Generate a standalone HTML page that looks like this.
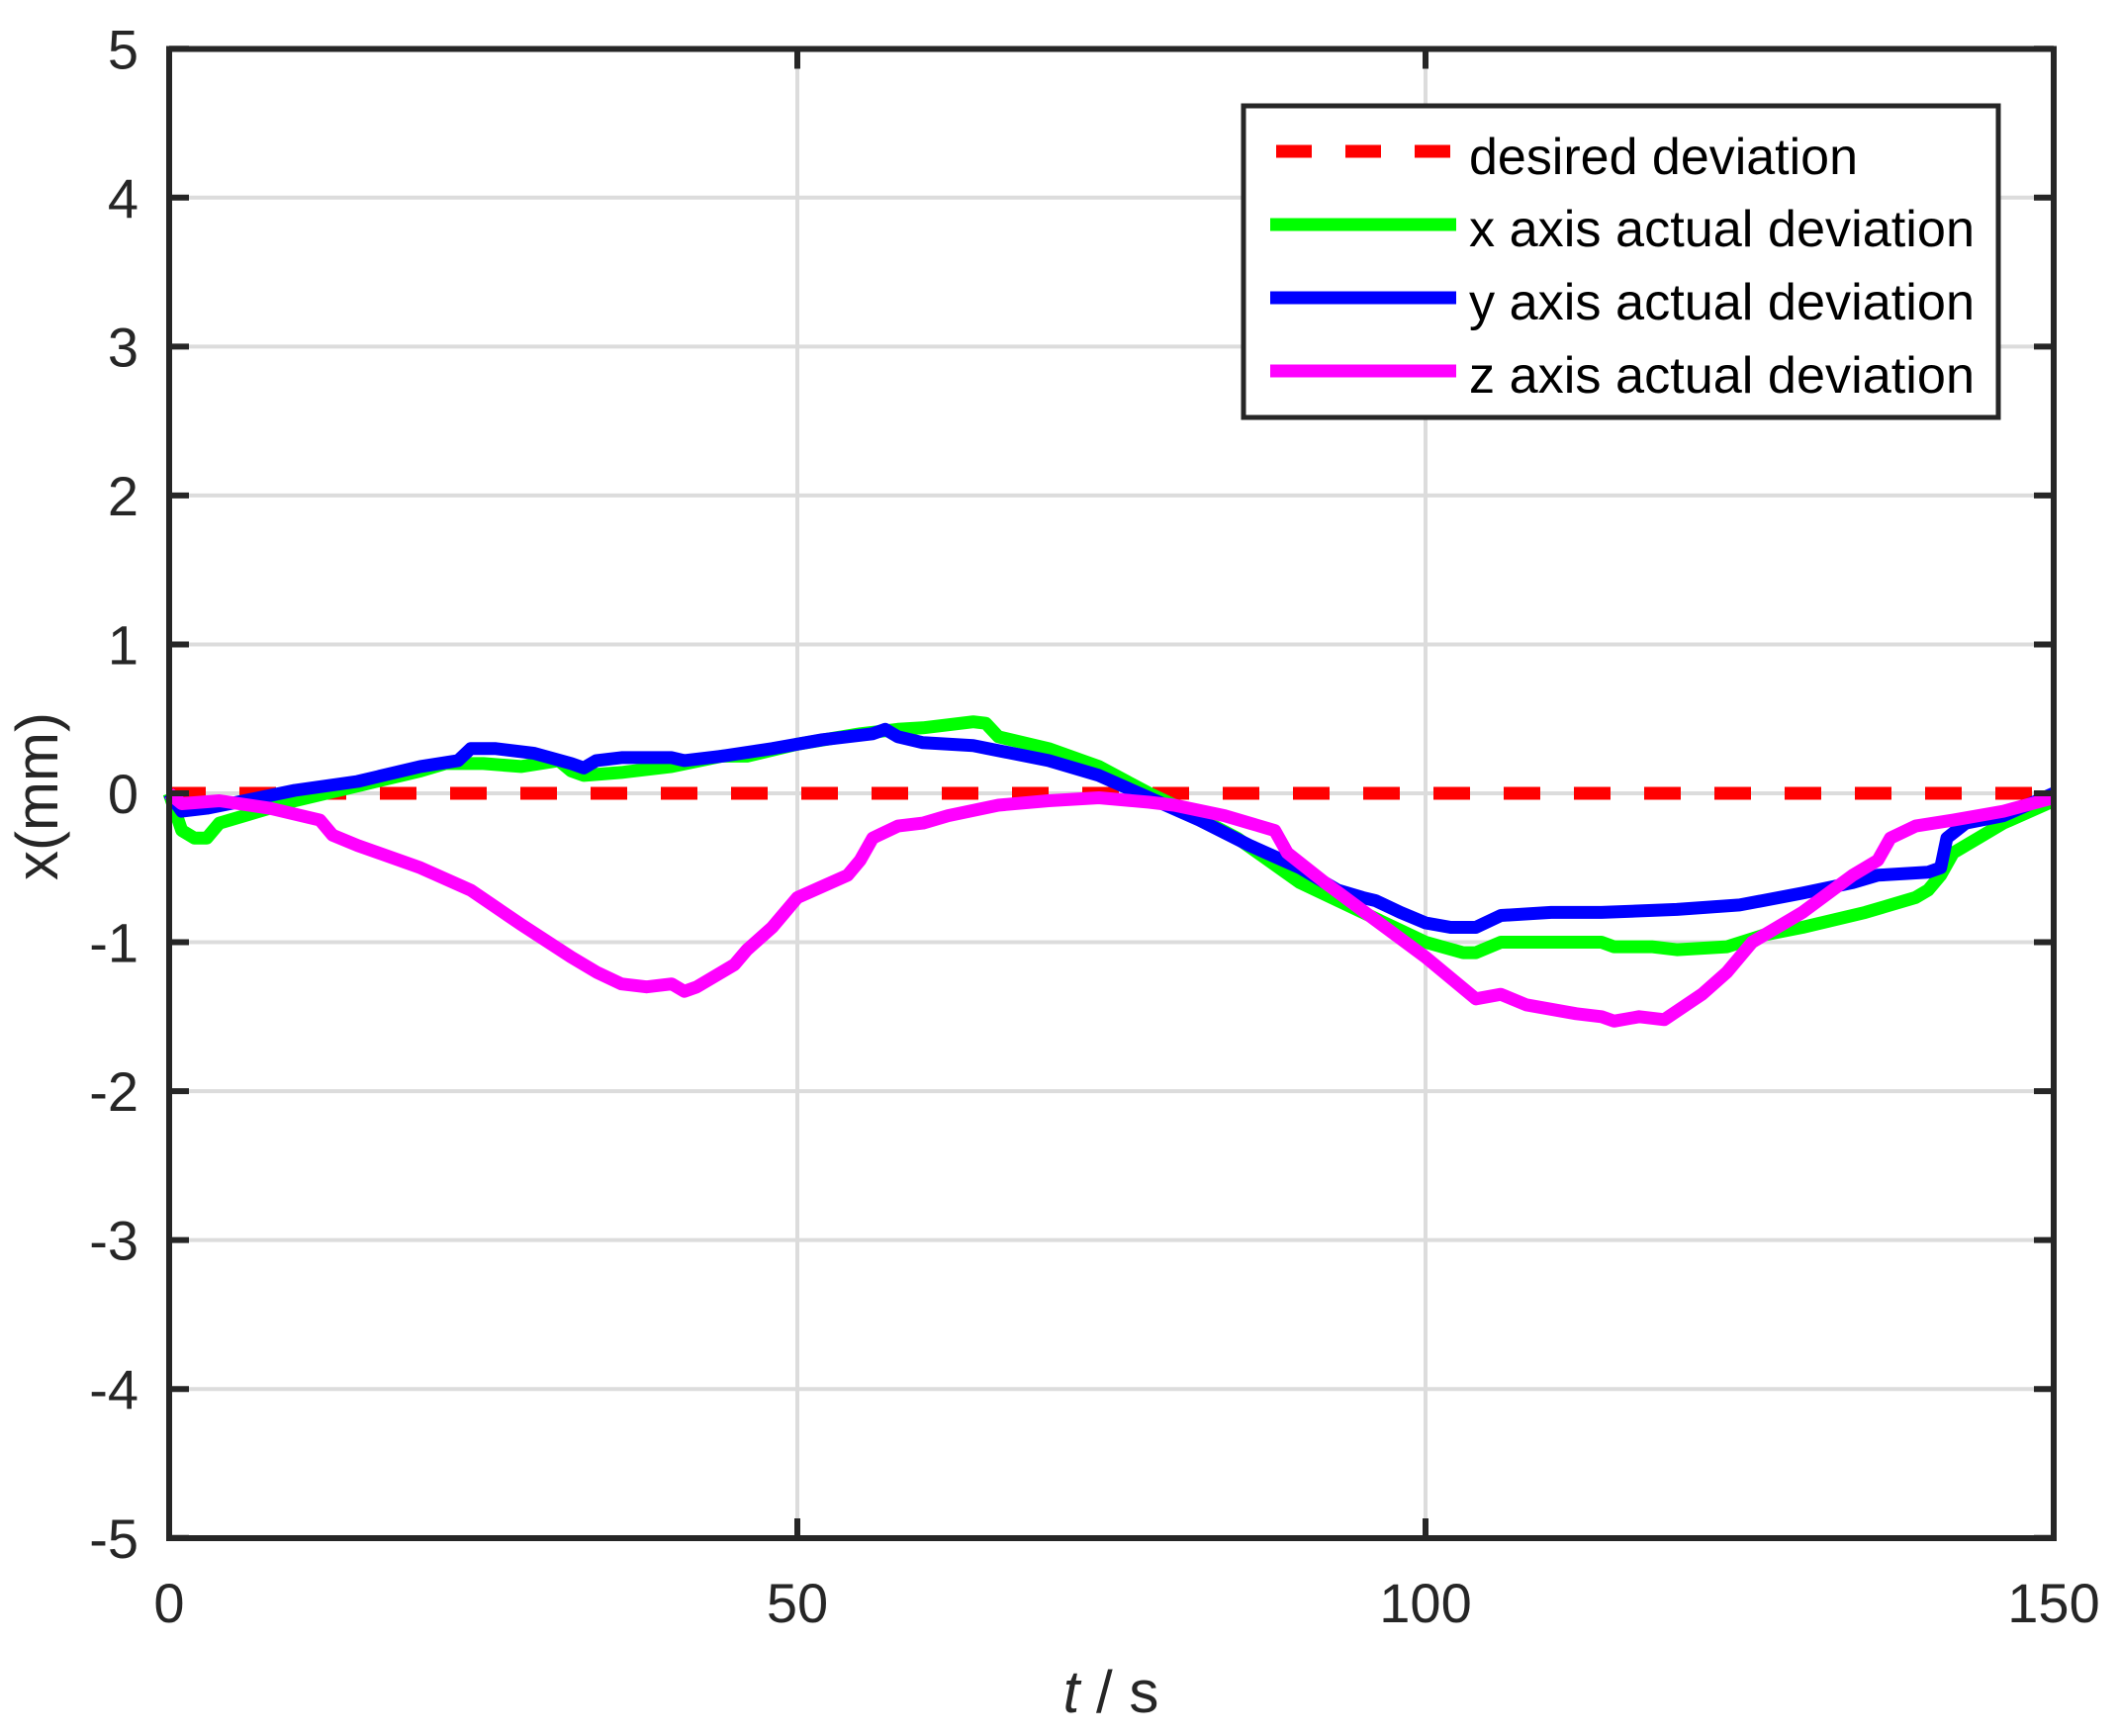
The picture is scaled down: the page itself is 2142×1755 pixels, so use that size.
<!DOCTYPE html>
<html><head><meta charset="utf-8"><style>html,body{margin:0;padding:0;background:#fff}svg{display:block}</style></head>
<body>
<svg id="s" width="2142" height="1755" viewBox="0 0 2142 1755" xmlns="http://www.w3.org/2000/svg" font-family="Liberation Sans, Arial, sans-serif">
<rect width="2142" height="1755" fill="#fff"/>
<g id="grid" stroke="#dcdcdc" stroke-width="4"></g>
<g id="series" fill="none" stroke-linejoin="round" stroke-linecap="butt"></g>
<rect x="171" y="49.5" width="1905" height="1505.5" fill="none" stroke="#262626" stroke-width="6"/>
<g id="ticks" stroke="#262626" stroke-width="6"></g>
<g id="labels" fill="#262626" font-size="56"></g>
<text x="1123" y="1731" font-size="60" fill="#262626" text-anchor="middle"><tspan font-style="italic">t</tspan> / s</text>
<text transform="translate(58,805) rotate(-90)" font-size="60" fill="#262626" text-anchor="middle">x(mm)</text>
<g>
<rect x="1257" y="107" width="763" height="315" fill="#fff" stroke="#262626" stroke-width="5"/>
<line x1="1290" y1="153" x2="1472" y2="153" stroke="#ff0000" stroke-width="13" stroke-dasharray="36 34"/>
<line x1="1284" y1="227" x2="1472" y2="227" stroke="#00ff00" stroke-width="13"/>
<line x1="1284" y1="301" x2="1472" y2="301" stroke="#0000ff" stroke-width="13"/>
<line x1="1284" y1="375" x2="1472" y2="375" stroke="#ff00ff" stroke-width="13"/>
<g font-size="52" fill="#000">
<text x="1485" y="176" textLength="393" lengthAdjust="spacingAndGlyphs">desired deviation</text>
<text x="1485" y="249" textLength="511" lengthAdjust="spacingAndGlyphs">x axis actual deviation</text>
<text x="1485" y="323" textLength="511" lengthAdjust="spacingAndGlyphs">y axis actual deviation</text>
<text x="1485" y="397" textLength="511" lengthAdjust="spacingAndGlyphs">z axis actual deviation</text>
</g>
</g>
</svg>
<script>
var NS="http://www.w3.org/2000/svg";
function X(t){return 171+t*12.7}
function Y(v){return 802-v*150.55}
function el(p,tag,a,txt){var e=document.createElementNS(NS,tag);for(var k in a)e.setAttribute(k,a[k]);if(txt!=null)e.textContent=txt;document.getElementById(p).appendChild(e);return e}
for(var v=-4;v<=4;v++)el('grid','line',{x1:171,x2:2076,y1:Y(v),y2:Y(v)});
[50,100].forEach(function(t){el('grid','line',{x1:X(t),x2:X(t),y1:49.5,y2:1555})});
for(var v=-5;v<=5;v++){
 el('ticks','line',{x1:171,x2:191,y1:Y(v),y2:Y(v)});
 el('ticks','line',{x1:2056,x2:2076,y1:Y(v),y2:Y(v)});
 el('labels','text',{x:140,y:Y(v)+20,'text-anchor':'end'},String(v));
}
[0,50,100,150].forEach(function(t){
 el('ticks','line',{x1:X(t),x2:X(t),y1:1555,y2:1535});
 el('ticks','line',{x1:X(t),x2:X(t),y1:49.5,y2:69.5});
 el('labels','text',{x:X(t),y:1640,'text-anchor':'middle'},String(t));
});
function path(d){return d.map(function(p,i){return (i?'L':'M')+X(p[0]).toFixed(1)+' '+Y(p[1]).toFixed(1)}).join(' ')}
el('series','line',{x1:171,x2:2076,y1:802,y2:802,stroke:'#ff0000','stroke-width':13,'stroke-dasharray':'37 34'});
var g=[[0,0],[1,-0.25],[2,-0.3],[3,-0.3],[4,-0.2],[6,-0.15],[10,-0.05],[15,0.05],[20,0.15],[22,0.2],[25,0.2],[28,0.18],[31,0.22],[32,0.15],[33,0.12],[36,0.14],[40,0.18],[44,0.25],[46,0.25],[50,0.33],[55,0.4],[58,0.43],[60,0.44],[64,0.48],[65,0.47],[66,0.38],[70,0.3],[74,0.18],[78,0],[80,-0.08],[85,-0.3],[90,-0.6],[95,-0.8],[100,-1.0],[103,-1.07],[104,-1.07],[106,-1.0],[110,-1.0],[114,-1.0],[115,-1.03],[118,-1.03],[120,-1.05],[124,-1.03],[127,-0.95],[130,-0.9],[135,-0.8],[139,-0.7],[140,-0.65],[141,-0.55],[142,-0.4],[143,-0.35],[144,-0.3],[146,-0.2],[150,-0.05]];
var b=[[0,0],[1,-0.12],[3,-0.1],[6,-0.05],[10,0.02],[15,0.08],[20,0.18],[23,0.22],[24,0.3],[26,0.3],[29,0.27],[32,0.2],[33,0.17],[34,0.22],[36,0.24],[40,0.24],[41,0.22],[44,0.25],[48,0.3],[52,0.36],[56,0.4],[57,0.43],[58,0.38],[60,0.34],[64,0.32],[70,0.22],[74,0.12],[78,-0.03],[82,-0.18],[86,-0.35],[90,-0.5],[93,-0.65],[95,-0.7],[96,-0.72],[98,-0.8],[100,-0.87],[102,-0.9],[104,-0.9],[106,-0.82],[110,-0.8],[114,-0.8],[120,-0.78],[125,-0.75],[130,-0.67],[134,-0.6],[136,-0.55],[140,-0.53],[141,-0.5],[141.5,-0.3],[143,-0.2],[146,-0.15],[150,0]];
var m=[[0,0],[1,-0.07],[4,-0.05],[8,-0.1],[12,-0.18],[13,-0.28],[15,-0.35],[20,-0.5],[24,-0.65],[28,-0.88],[32,-1.1],[34,-1.2],[36,-1.28],[38,-1.3],[40,-1.28],[41,-1.33],[42,-1.3],[45,-1.15],[46,-1.05],[48,-0.9],[50,-0.7],[54,-0.55],[55,-0.45],[56,-0.3],[58,-0.22],[60,-0.2],[62,-0.15],[66,-0.08],[70,-0.05],[74,-0.03],[78,-0.06],[80,-0.08],[84,-0.15],[86,-0.2],[88,-0.25],[89,-0.4],[92,-0.6],[96,-0.85],[100,-1.1],[104,-1.38],[106,-1.35],[108,-1.42],[110,-1.45],[112,-1.48],[114,-1.5],[115,-1.53],[117,-1.5],[119,-1.52],[122,-1.35],[124,-1.2],[126,-1.0],[130,-0.8],[134,-0.55],[136,-0.45],[137,-0.3],[139,-0.22],[142,-0.18],[146,-0.12],[150,-0.03]];
el('series','path',{d:path(g),stroke:'#00ff00','stroke-width':13});
el('series','path',{d:path(b),stroke:'#0000ff','stroke-width':13});
el('series','path',{d:path(m),stroke:'#ff00ff','stroke-width':13});
</script>
</body></html>
